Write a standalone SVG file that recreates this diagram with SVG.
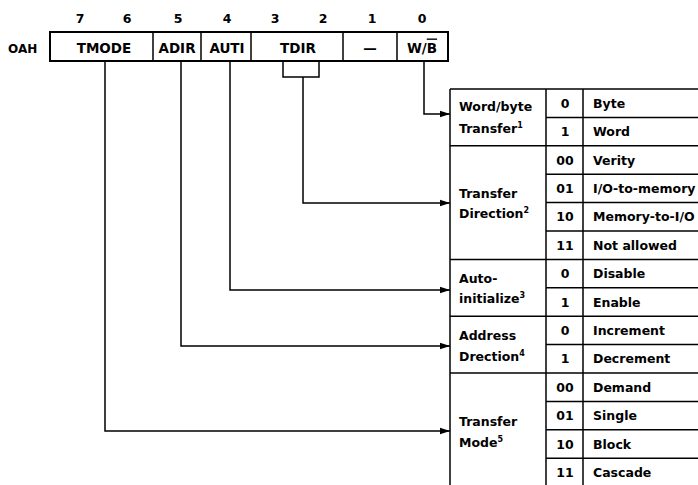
<svg xmlns="http://www.w3.org/2000/svg" width="698" height="485" viewBox="0 0 698 485">
<defs>
<style>
text{font-family:"DejaVu Sans","Liberation Sans",sans-serif;font-weight:bold;fill:#000}
.bit{font-size:12.5px;text-anchor:middle}
.reg{font-size:13.5px;text-anchor:middle}
.t{font-size:12.5px}
.c{font-size:12.5px;text-anchor:middle}
.sup{font-size:8px}
.ln{stroke:#000;stroke-width:1.5;fill:none}
.box{stroke:#000;stroke-width:2;fill:none}
</style>
<marker id="ah" markerUnits="userSpaceOnUse" markerWidth="10" markerHeight="8" refX="10" refY="4" orient="auto">
<path d="M0,0.8 L10,4 L0,7.2 z" fill="#000"/>
</marker>
</defs>
<rect width="698" height="485" fill="#fff"/>

<g id="register">
<text x="80" y="23" class="bit">7</text>
<text x="127" y="23" class="bit">6</text>
<text x="178" y="23" class="bit">5</text>
<text x="227" y="23" class="bit">4</text>
<text x="275" y="23" class="bit">3</text>
<text x="323" y="23" class="bit">2</text>
<text x="372" y="23" class="bit">1</text>
<text x="422" y="23" class="bit">0</text>
<text x="8" y="52.5" class="t" style="font-size:12px">OAH</text>
<rect x="50" y="32" width="398" height="29" class="box"/>
<line x1="153" y1="32" x2="153" y2="61" class="ln"/>
<line x1="201" y1="32" x2="201" y2="61" class="ln"/>
<line x1="251" y1="32" x2="251" y2="61" class="ln"/>
<line x1="343" y1="32" x2="343" y2="61" class="ln"/>
<line x1="397" y1="32" x2="397" y2="61" class="ln"/>
<text x="104" y="52.5" class="reg">TMODE</text>
<text x="177" y="52.5" class="reg">ADIR</text>
<text x="227" y="52.5" class="reg">AUTI</text>
<text x="298" y="52.5" class="reg">TDIR</text>
<text x="370" y="52.5" class="reg">—</text>
<text x="422" y="52.5" class="reg">W/<tspan text-decoration="overline">B</tspan></text>
</g>

<g id="connectors" class="ln">
<path d="M424,61 V114 H450" marker-end="url(#ah)"/>
<path d="M283,61 V77 H319 V61"/>
<path d="M303,77 V203 H450" marker-end="url(#ah)"/>
<path d="M230,61 V290 H450" marker-end="url(#ah)"/>
<path d="M181,61 V346 H450" marker-end="url(#ah)"/>
<path d="M105,61 V431 H450" marker-end="url(#ah)"/>
</g>

<g id="table" class="ln">
<line x1="450" y1="89" x2="450" y2="486"/>
<line x1="546" y1="89" x2="546" y2="486"/>
<line x1="583" y1="89" x2="583" y2="486"/>
<line x1="450" y1="89" x2="698" y2="89"/>
<line x1="546" y1="117.4" x2="698" y2="117.4"/>
<line x1="450" y1="145.8" x2="698" y2="145.8"/>
<line x1="546" y1="174.2" x2="698" y2="174.2"/>
<line x1="546" y1="202.6" x2="698" y2="202.6"/>
<line x1="546" y1="231" x2="698" y2="231"/>
<line x1="450" y1="259.4" x2="698" y2="259.4"/>
<line x1="546" y1="287.8" x2="698" y2="287.8"/>
<line x1="450" y1="316.2" x2="698" y2="316.2"/>
<line x1="546" y1="344.6" x2="698" y2="344.6"/>
<line x1="450" y1="373" x2="698" y2="373"/>
<line x1="546" y1="401.4" x2="698" y2="401.4"/>
<line x1="546" y1="429.8" x2="698" y2="429.8"/>
<line x1="546" y1="458.2" x2="698" y2="458.2"/>
</g>

<g id="word-byte">
<text x="459" y="110.5" class="t">Word/byte</text>
<text x="459" y="133" class="t">Transfer<tspan class="sup" dy="-5">1</tspan></text>
<text x="565" y="107.7" class="c">0</text><text x="593" y="107.7" class="t">Byte</text>
<text x="565" y="136.1" class="c">1</text><text x="593" y="136.1" class="t">Word</text>
</g>

<g id="transfer-direction">
<text x="459" y="198" class="t">Transfer</text>
<text x="459" y="218" class="t">Direction<tspan class="sup" dy="-5">2</tspan></text>
<text x="565" y="164.5" class="c">00</text><text x="593" y="164.5" class="t">Verity</text>
<text x="565" y="192.9" class="c">01</text><text x="593" y="192.9" class="t">I/O-to-memory</text>
<text x="565" y="221.3" class="c">10</text><text x="593" y="221.3" class="t">Memory-to-I/O</text>
<text x="565" y="249.7" class="c">11</text><text x="593" y="249.7" class="t">Not allowed</text>
</g>

<g id="auto-initialize">
<text x="459" y="282.5" class="t">Auto-</text>
<text x="459" y="303.3" class="t">initialize<tspan class="sup" dy="-5">3</tspan></text>
<text x="565" y="278.1" class="c">0</text><text x="593" y="278.1" class="t">Disable</text>
<text x="565" y="306.5" class="c">1</text><text x="593" y="306.5" class="t">Enable</text>
</g>

<g id="address-direction">
<text x="459" y="340" class="t">Address</text>
<text x="459" y="360.5" class="t">Drection<tspan class="sup" dy="-5">4</tspan></text>
<text x="565" y="334.9" class="c">0</text><text x="593" y="334.9" class="t">Increment</text>
<text x="565" y="363.3" class="c">1</text><text x="593" y="363.3" class="t">Decrement</text>
</g>

<g id="transfer-mode">
<text x="459" y="426.3" class="t">Transfer</text>
<text x="459" y="446.7" class="t">Mode<tspan class="sup" dy="-5">5</tspan></text>
<text x="565" y="391.7" class="c">00</text><text x="593" y="391.7" class="t">Demand</text>
<text x="565" y="420.1" class="c">01</text><text x="593" y="420.1" class="t">Single</text>
<text x="565" y="448.5" class="c">10</text><text x="593" y="448.5" class="t">Block</text>
<text x="565" y="476.9" class="c">11</text><text x="593" y="476.9" class="t">Cascade</text>
</g>
</svg>
